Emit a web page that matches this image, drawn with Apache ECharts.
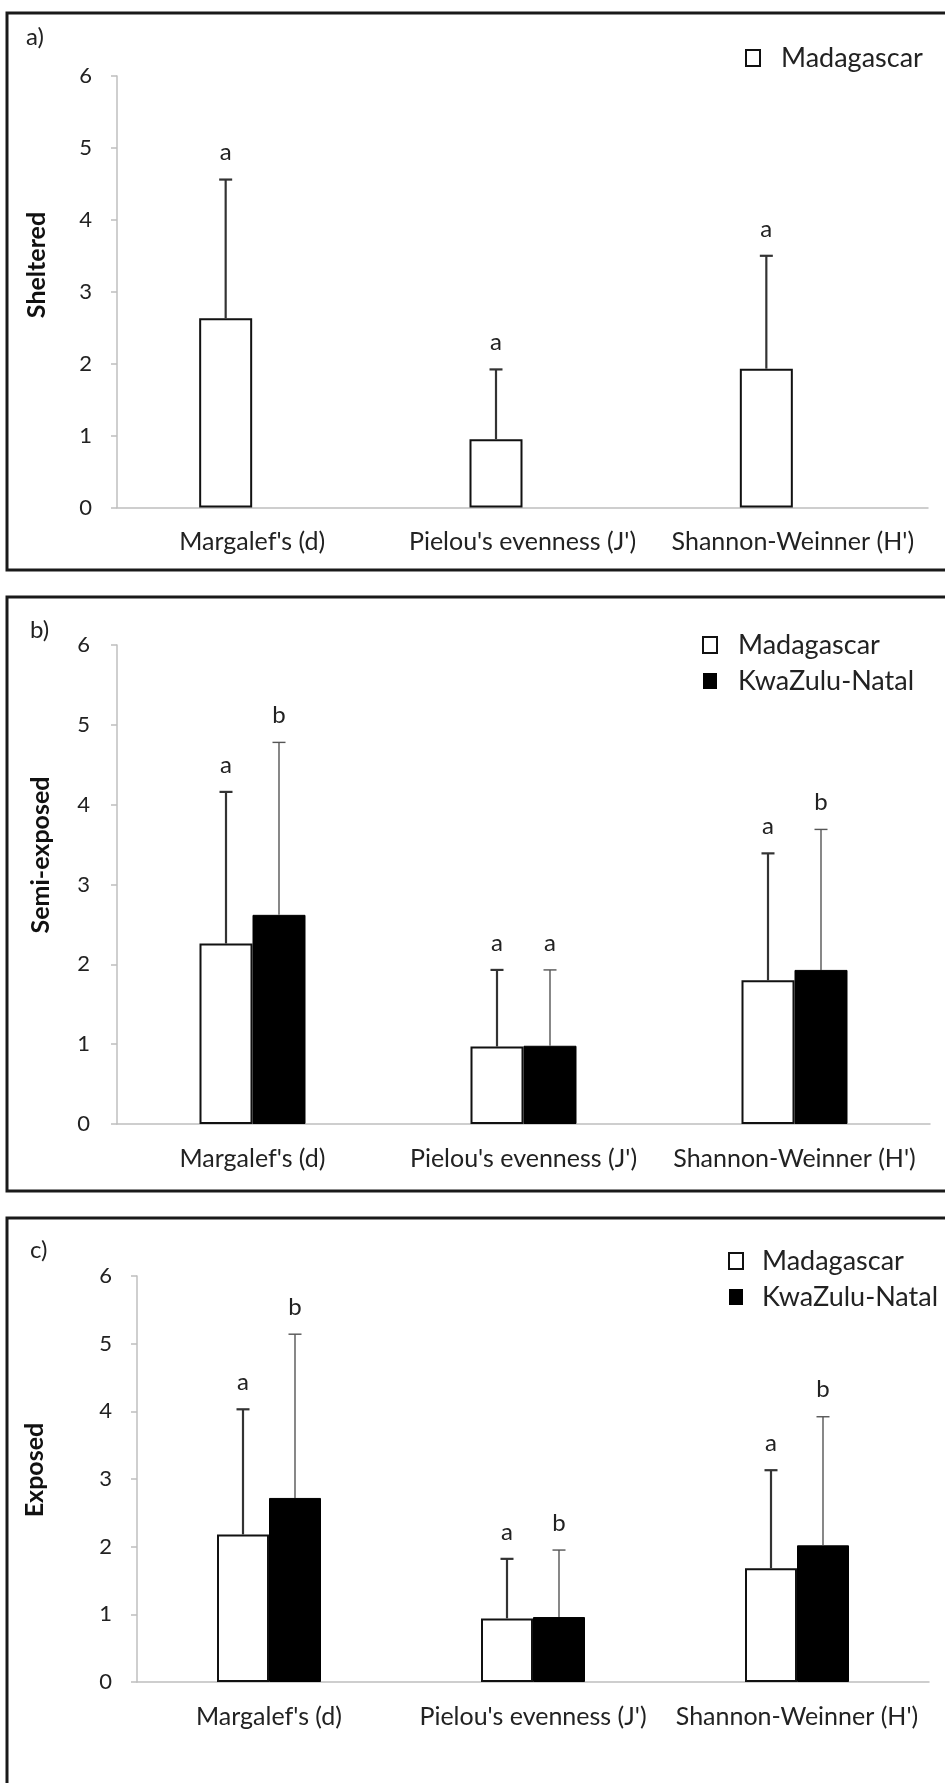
<!DOCTYPE html>
<html>
<head>
<meta charset="utf-8">
<script src="https://cdn.jsdelivr.net/npm/echarts@6/dist/echarts.min.js"></script>
<style>
html,body{margin:0;padding:0;background:#fff;}
#chart{width:945px;height:1783px;}
</style>
</head>
<body>
<div id="chart"></div>
<script>
// ---- data ----
const categories = ["Margalef's (d)", "Pielou's evenness (J')", "Shannon-Weinner (H')"];
const yTicks = [0, 1, 2, 3, 4, 5, 6];
const panelLabels = ['a)', 'b)', 'c)'];
const panelTitles = ['Sheltered', 'Semi-exposed', 'Exposed'];
const seriesNames = ['Madagascar', 'KwaZulu-Natal'];

// a) Sheltered (Madagascar only)
const madA = [2.63, 0.95, 1.93];
const madASD = [1.93, 0.97, 1.57];
const madALetters = ['a', 'a', 'a'];

// b) Semi-exposed
const madB = [2.26, 0.97, 1.80];
const madBSD = [1.90, 0.96, 1.59];
const madBLetters = ['a', 'a', 'a'];
const kznB = [2.62, 0.98, 1.93];
const kznBSD = [2.16, 0.95, 1.76];
const kznBLetters = ['b', 'a', 'b'];

// c) Exposed
const madC = [2.18, 0.94, 1.68];
const madCSD = [1.85, 0.88, 1.45];
const madCLetters = ['a', 'a', 'a'];
const kznC = [2.72, 0.96, 2.02];
const kznCSD = [2.42, 0.99, 1.90];
const kznCLetters = ['b', 'b', 'b'];

// ---- layout / style ----
const FONT = 'Lato';
const grids = [
  {left: 117, top: 76, width: 811, height: 431.5},
  {left: 117, top: 645, width: 813, height: 479},
  {left: 137, top: 1276, width: 792, height: 406}
];
const barW = [53, 53, 52];
const panels = [
  {mad: madA, madSD: madASD, madL: madALetters, kzn: [null, null, null], kznSD: null, kznL: null, legend: ['Madagascar']},
  {mad: madB, madSD: madBSD, madL: madBLetters, kzn: kznB, kznSD: kznBSD, kznL: kznBLetters, legend: seriesNames},
  {mad: madC, madSD: madCSD, madL: madCLetters, kzn: kznC, kznSD: kznCSD, kznL: kznCLetters, legend: seriesNames}
];
const legendPos = [
  {left: 740, top: 38, pad: 16},
  {left: 697, top: 625, pad: 16},
  {left: 723, top: 1241, pad: 14}
];
const labelMargin = [25, 27, 25];
const frames = [
  {y: 13, h: 557},
  {y: 597, h: 594},
  {y: 1218, h: 700}
];
const panelLabelPos = [{x: 26, y: 37}, {x: 30, y: 630}, {x: 30, y: 1250}];
const titlePos = [{x: 37, y: 265}, {x: 41, y: 855}, {x: 35, y: 1470}];

const axisColor = '#bfbfbf';

const xAxis = [], yAxis = [], series = [], legend = [], graphic = [];

function errSeries(gi, means, sds, letters, side, color, width) {
  return {
    type: 'custom',
    xAxisIndex: gi, yAxisIndex: gi,
    z: 5,
    silent: true,
    data: means.map((m, i) => [i, m, sds[i]]),
    renderItem: function (params, api) {
      const i = api.value(0), m = api.value(1), s = api.value(2);
      const base = api.coord([i, m]);
      const top = api.coord([i, m + s]);
      const cx = base[0] + side * barW[gi] / 2;
      const ls = {stroke: color, lineWidth: width};
      return {
        type: 'group',
        children: [
          {type: 'line', shape: {x1: cx, y1: base[1], x2: cx, y2: top[1]}, style: ls},
          {type: 'line', shape: {x1: cx - 6.5, y1: top[1], x2: cx + 6.5, y2: top[1]}, style: ls},
          {type: 'text', style: {text: letters[params.dataIndex], x: cx, y: top[1] - 27,
            textAlign: 'center', textVerticalAlign: 'middle',
            font: '24px ' + FONT, fill: '#222'}}
        ]
      };
    }
  };
}

panels.forEach((p, gi) => {
  xAxis.push({
    type: 'category', gridIndex: gi, data: categories,
    axisLine: {lineStyle: {color: axisColor, width: 1.5}},
    axisTick: {show: false},
    axisLabel: {color: '#222', fontFamily: FONT, fontSize: 25, margin: 22, interval: 0}
  });
  yAxis.push({
    type: 'value', gridIndex: gi, min: yTicks[0], max: yTicks[yTicks.length - 1], interval: 1,
    axisLine: {show: true, lineStyle: {color: axisColor, width: 1.5}},
    axisTick: {show: true, length: 6, lineStyle: {color: axisColor, width: 1.5}},
    splitLine: {show: false},
    axisLabel: {color: '#222', fontFamily: FONT, fontSize: 22, margin: labelMargin[gi]}
  });
  series.push({
    name: 'Madagascar', type: 'bar', xAxisIndex: gi, yAxisIndex: gi,
    data: p.mad, barWidth: barW[gi], barGap: '0%',
    itemStyle: {color: '#ffffff', borderColor: '#111', borderWidth: 2}
  });
  series.push({
    name: 'KwaZulu-Natal', type: 'bar', xAxisIndex: gi, yAxisIndex: gi,
    data: p.kzn, barWidth: barW[gi], barGap: '0%',
    itemStyle: {color: '#000000', borderColor: '#000', borderWidth: 1}
  });
  series.push(errSeries(gi, p.mad, p.madSD, p.madL, -1, '#333', 2.2));
  if (p.kznSD) series.push(errSeries(gi, p.kzn, p.kznSD, p.kznL, 1, '#555', 1.4));

  const lp = legendPos[gi];
  legend.push({
    orient: 'vertical', left: lp.left, top: lp.top, selectedMode: false,
    icon: 'rect', itemWidth: 14, itemHeight: 16, itemGap: 6,
    textStyle: {fontFamily: FONT, fontSize: 27, color: '#222', lineHeight: 30, padding: [0, 0, 0, lp.pad]},
    data: p.legend.map(n => n === 'Madagascar'
      ? {name: n, itemStyle: {color: '#fff', borderColor: '#111', borderWidth: 2}}
      : {name: n, itemStyle: {color: '#000', borderColor: '#000', borderWidth: 0}})
  });

  graphic.push({
    type: 'rect', silent: true, z: 0,
    shape: {x: 7, y: frames[gi].y, width: 1000, height: frames[gi].h},
    style: {fill: 'none', stroke: '#1a1a1a', lineWidth: 3}
  });
  graphic.push({
    type: 'text', silent: true,
    x: panelLabelPos[gi].x, y: panelLabelPos[gi].y,
    style: {text: panelLabels[gi], font: '24px ' + FONT, fill: '#222', textVerticalAlign: 'middle'}
  });
  graphic.push({
    type: 'text', silent: true,
    x: titlePos[gi].x, y: titlePos[gi].y, rotation: Math.PI / 2,
    style: {text: panelTitles[gi], font: 'bold 25px ' + FONT, fill: '#111', textAlign: 'center', textVerticalAlign: 'middle'}
  });
});

const chart = echarts.init(document.getElementById('chart'), null, {renderer: 'canvas'});
chart.setOption({
  animation: false,
  backgroundColor: '#fff',
  grid: grids,
  xAxis: xAxis,
  yAxis: yAxis,
  legend: legend,
  series: series,
  graphic: graphic
});
</script>
</body>
</html>
